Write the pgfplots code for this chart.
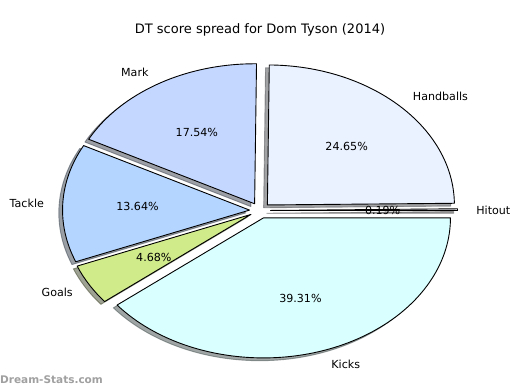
\documentclass[border=0pt]{standalone}
\usepackage{pgfplots}
\pgfplotsset{compat=1.18}
\usepackage{pgfplotstable}
\usepackage{fontspec}
\setmainfont{DejaVu Sans}
\definecolor{hitc}{RGB}{225,228,235}
\definecolor{handc}{RGB}{234,241,255}
\definecolor{markc}{RGB}{196,215,255}
\definecolor{tackc}{RGB}{179,213,255}
\definecolor{goalc}{RGB}{208,235,138}
\definecolor{kickc}{RGB}{218,255,255}
\definecolor{wmark}{RGB}{160,160,160}
\pgfplotstableread{
label value color
Hitout 0.19 hitc
Handballs 24.65 handc
Mark 17.54 markc
Tackle 13.64 tackc
Goals 4.68 goalc
Kicks 39.31 kickc
}\piedata
\begin{document}
\begin{tikzpicture}
\def\ex{0.056}
\pgfplotstablegetrowsof{\piedata}
\pgfmathtruncatemacro\lastrow{\pgfplotsretval-1}
\def\tot{0}
\pgfplotsforeachungrouped \i in {0,...,\lastrow}{%
  \pgfplotstablegetelem{\i}{value}\of\piedata
  \pgfmathsetmacro\tot{\tot+\pgfplotsretval}%
}
\def\cum{0}
\pgfplotsforeachungrouped \i in {0,...,\lastrow}{%
  \pgfplotstablegetelem{\i}{value}\of\piedata \edef\vv{\pgfplotsretval}%
  \pgfplotstablegetelem{\i}{label}\of\piedata \edef\ll{\pgfplotsretval}%
  \pgfplotstablegetelem{\i}{color}\of\piedata \edef\cc{\pgfplotsretval}%
  \pgfmathsetmacro\angA{\cum/\tot*360}%
  \pgfmathsetmacro\cum{\cum+\vv}%
  \pgfmathsetmacro\angB{\cum/\tot*360}%
  \pgfmathsetmacro\angM{(\angA+\angB)/2}%
  \pgfmathsetmacro\offX{\ex*cos(\angM)}%
  \pgfmathsetmacro\offY{\ex*sin(\angM)}%
  \pgfmathsetmacro\shX{\offX-0.02}%
  \pgfmathsetmacro\shY{\offY-0.02}%
  \pgfmathsetmacro\labX{\offX+1.1*cos(\angM)}%
  \pgfmathsetmacro\labY{\offY+1.1*sin(\angM)}%
  \pgfmathsetmacro\pctX{\offX+0.6*cos(\angM)}%
  \pgfmathsetmacro\pctY{\offY+0.6*sin(\angM)}%
  \pgfmathtruncatemacro\isright{\labX>0}%
  \expandafter\xdef\csname pa\i\endcsname{\angA}%
  \expandafter\xdef\csname pb\i\endcsname{\angB}%
  \expandafter\xdef\csname px\i\endcsname{\offX}%
  \expandafter\xdef\csname py\i\endcsname{\offY}%
  \expandafter\xdef\csname sx\i\endcsname{\shX}%
  \expandafter\xdef\csname sy\i\endcsname{\shY}%
  \expandafter\xdef\csname lx\i\endcsname{\labX}%
  \expandafter\xdef\csname ly\i\endcsname{\labY}%
  \expandafter\xdef\csname qx\i\endcsname{\pctX}%
  \expandafter\xdef\csname qy\i\endcsname{\pctY}%
  \expandafter\xdef\csname pl\i\endcsname{\ll}%
  \expandafter\xdef\csname pv\i\endcsname{\vv}%
  \expandafter\xdef\csname pc\i\endcsname{\cc}%
  \ifnum\isright=1
    \expandafter\xdef\csname an\i\endcsname{west}%
  \else
    \expandafter\xdef\csname an\i\endcsname{east}%
  \fi
}
\begin{axis}[
  scale only axis, width=520bp, height=390bp,
  xmin=-1.3904, xmax=1.3904, ymin=-1.2821, ymax=1.5036,
  hide axis, clip=false]
\path[fill=white] (rel axis cs:0,0) rectangle (rel axis cs:1,1);
% shadows
\pgfplotsforeachungrouped \i in {0,...,\lastrow}{%
  \edef\temp{\noexpand\filldraw[fill=\csname pc\i\endcsname!30!black, draw=\csname pc\i\endcsname!30!black, fill opacity=0.5, draw opacity=0.5, line width=0.9bp, line join=round]
    (axis cs:\csname sx\i\endcsname,\csname sy\i\endcsname) -- ++(\csname pa\i\endcsname:187bp and 140bp)
    arc[start angle=\csname pa\i\endcsname, end angle=\csname pb\i\endcsname, x radius=187bp, y radius=140bp] -- cycle;}%
  \temp
}
% wedges
\pgfplotsforeachungrouped \i in {0,...,\lastrow}{%
  \edef\temp{\noexpand\filldraw[fill=\csname pc\i\endcsname, draw=black, line width=0.9bp, line join=round]
    (axis cs:\csname px\i\endcsname,\csname py\i\endcsname) -- ++(\csname pa\i\endcsname:187bp and 140bp)
    arc[start angle=\csname pa\i\endcsname, end angle=\csname pb\i\endcsname, x radius=187bp, y radius=140bp] -- cycle;}%
  \temp
}
% labels
\pgfplotsforeachungrouped \i in {0,...,\lastrow}{%
  \edef\temp{\noexpand\node[anchor=\csname an\i\endcsname, inner sep=0pt, font=\noexpand\fontsize{11.1bp}{13bp}\noexpand\selectfont, text height=12.2bp, text depth=2.2bp]
    at (axis cs:\csname lx\i\endcsname,\csname ly\i\endcsname) {\csname pl\i\endcsname};
    \noexpand\node[anchor=center, inner sep=0pt, font=\noexpand\fontsize{11.1bp}{13bp}\noexpand\selectfont, text height=12.2bp, text depth=2.2bp]
    at (axis cs:\csname qx\i\endcsname,\csname qy\i\endcsname) {\csname pv\i\endcsname\noexpand\%};}%
  \temp
}
\node[anchor=center, inner sep=0pt, font=\fontsize{13bp}{15bp}\selectfont] at (axis cs:0,1.29) {DT score spread for Dom Tyson (2014)};
\node[anchor=west, inner sep=0pt, text=wmark, font=\bfseries\fontsize{10.5bp}{12bp}\selectfont] at (axis cs:-1.3904,-1.211) {Dream-Stats.com};
\end{axis}
\end{tikzpicture}
\end{document}
